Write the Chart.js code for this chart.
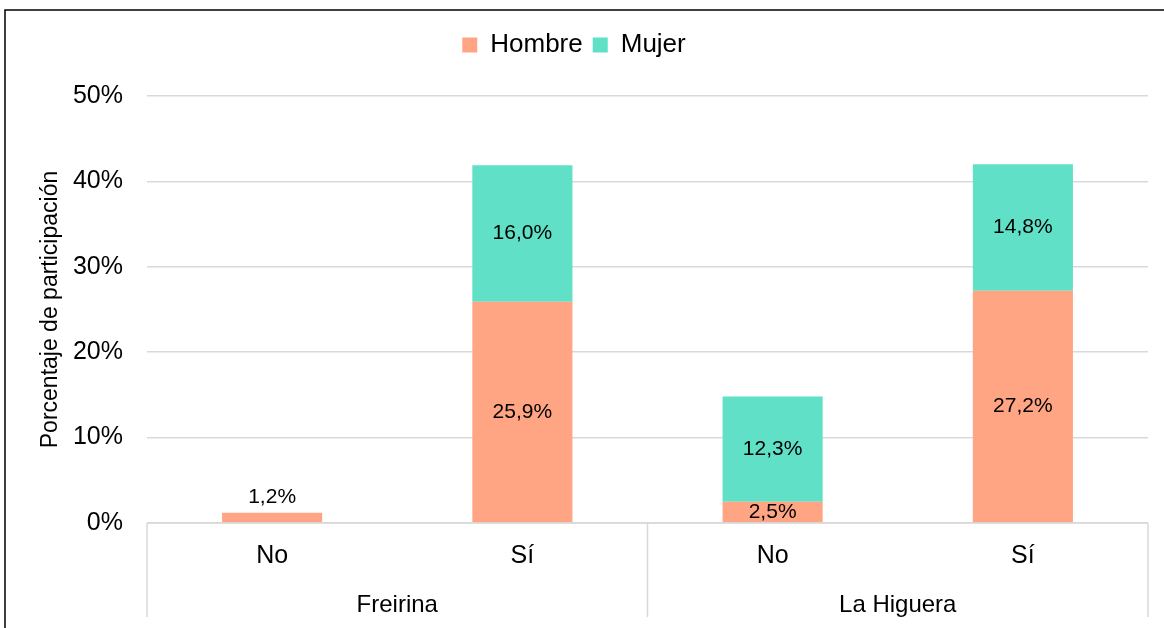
<!DOCTYPE html>
<html lang="es">
<head>
  <meta charset="UTF-8" />
  <title>Porcentaje de participación</title>
  <script src="https://cdn.jsdelivr.net/npm/chart.js"></script>
  <style>
    html, body { margin: 0; padding: 0; background: #ffffff; overflow: hidden; }
    .chart-container { position: relative; width: 1164px; height: 628px; }
  </style>
</head>
<body>
  <div class="chart-container">
    <canvas id="grafico"></canvas>
  </div>

  <script>
    // Datos
    const categorias = ['No', 'Sí', 'No', 'Sí'];
    const comunas = ['Freirina', 'La Higuera'];
    const hombre = [1.2, 25.9, 2.5, 27.2];
    const mujer = [null, 16.0, 12.3, 14.8];

    const fuente = "'Liberation Sans', Arial, sans-serif";

    function formato(v) {
      return v.toFixed(1).replace('.', ',') + '%';
    }

    // marco, separadores del eje de categorias y etiquetas
    const extras = {
      id: 'extras',
      beforeInit(chart) {
        // espacio extra bajo la leyenda
        const fitOriginal = chart.legend.fit;
        chart.legend.fit = function () {
          fitOriginal.bind(chart.legend)();
          this.height += 28;
        };
      },
      beforeDraw(chart) {
        const ctx = chart.ctx;
        ctx.save();
        ctx.strokeStyle = '#000';
        ctx.lineWidth = 1.5;
        ctx.beginPath();
        ctx.moveTo(5, 628);
        ctx.lineTo(5, 10);
        ctx.lineTo(1164, 10);
        ctx.stroke();
        ctx.restore();
      },
      afterDraw(chart) {
        const ctx = chart.ctx;
        const area = chart.chartArea;
        const x2 = chart.scales.x2;
        ctx.save();
        ctx.strokeStyle = '#d9d9d9';
        ctx.lineWidth = 1.5;
        ctx.beginPath();
        ctx.moveTo(area.left, area.bottom);
        ctx.lineTo(area.right, area.bottom);
        const bordes = [area.left];
        for (let i = 0; i < comunas.length; i++) {
          bordes.push(x2.getPixelForValue(i) + (x2.getPixelForValue(0) - area.left));
        }
        bordes.forEach(px => {
          ctx.moveTo(px, area.bottom);
          ctx.lineTo(px, area.bottom + 94);
        });
        ctx.stroke();
        ctx.restore();
      },
      afterDatasetsDraw(chart) {
        const ctx = chart.ctx;
        ctx.save();
        ctx.font = '21px ' + fuente;
        ctx.fillStyle = '#000';
        ctx.textAlign = 'center';
        ctx.textBaseline = 'middle';
        chart.data.datasets.forEach((ds, di) => {
          const meta = chart.getDatasetMeta(di);
          meta.data.forEach((bar, i) => {
            const v = ds.data[i];
            if (v === null || v === undefined) return;
            let y = (bar.y + bar.base) / 2;
            if (di === 0 && (mujer[i] === null)) y = bar.y - 16;
            ctx.fillText(formato(v), bar.x, y);
          });
        });
        ctx.restore();
      }
    };

    const ctx = document.getElementById('grafico').getContext('2d');
    new Chart(ctx, {
      type: 'bar',
      data: {
        labels: categorias,
        datasets: [
          {
            label: 'Hombre',
            data: hombre,
            backgroundColor: '#ffa584',
            categoryPercentage: 1.0,
            barPercentage: 0.4
          },
          {
            label: 'Mujer',
            data: mujer,
            backgroundColor: '#5fe0c7',
            categoryPercentage: 1.0,
            barPercentage: 0.4
          }
        ]
      },
      options: {
        responsive: true,
        maintainAspectRatio: false,
        animation: false,
        layout: { padding: { top: 22, right: 16, left: 0, bottom: 0 } },
        plugins: {
          legend: {
            position: 'top',
            labels: {
              color: '#000',
              font: { family: fuente, size: 26 },
              boxWidth: 15,
              boxHeight: 15,
              padding: 10
            }
          },
          tooltip: { enabled: false }
        },
        scales: {
          x: {
            stacked: true,
            grid: { display: false, drawTicks: false },
            border: { display: false },
            ticks: {
              color: '#000',
              font: { family: fuente, size: 25 },
              padding: 18
            },
            afterFit: s => { s.height = 58; }
          },
          x2: {
            type: 'category',
            position: 'bottom',
            labels: comunas,
            offset: true,
            grid: { display: false, drawTicks: false },
            border: { display: false },
            ticks: {
              color: '#000',
              font: { family: fuente, size: 24 },
              padding: 10
            },
            afterFit: s => { s.height = 47; }
          },
          y: {
            stacked: true,
            min: 0,
            max: 50,
            ticks: {
              stepSize: 10,
              color: '#000',
              font: { family: fuente, size: 25 },
              padding: 24,
              callback: v => v + '%'
            },
            grid: { color: '#d9d9d9', lineWidth: 1.5, drawTicks: false },
            border: { display: false },
            title: {
              display: true,
              text: 'Porcentaje de participación',
              color: '#000',
              font: { family: fuente, size: 23 },
              padding: { top: 37, bottom: 0 }
            },
            afterFit: s => { s.width = 147; }
          }
        }
      },
      plugins: [extras]
    });
  </script>
</body>
</html>
